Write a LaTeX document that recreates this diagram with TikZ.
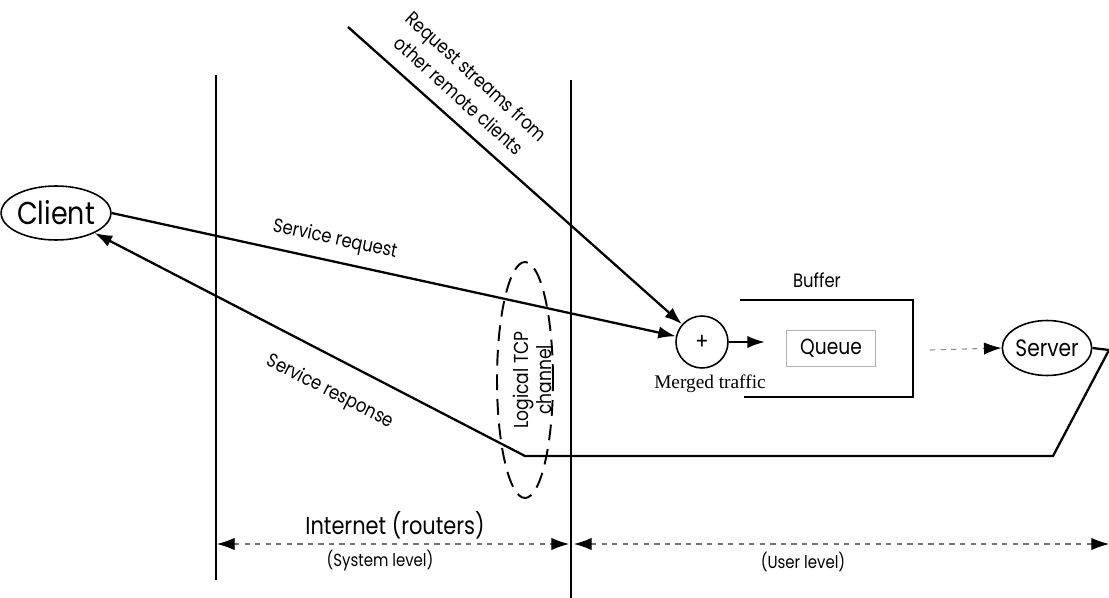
\documentclass[tikz,border=0pt]{standalone}
\usepackage{fontspec}
\setmainfont{Poppins}[FakeStretch=0.85]
\newfontfamily\timesfont{Liberation Serif}
\usetikzlibrary{arrows.meta,shapes.geometric}

\begin{document}
\begin{tikzpicture}[x=0.02cm,y=-0.02cm]
	\tikzset{oval/.style = {shape=ellipse,draw,line width=0.9pt,inner sep=0pt},
		wire/.style = {line width=1.3pt},
		tip/.style = {-{Latex[length=10pt,width=7pt]}},
		dim/.style = {draw=black!55,dashed,line width=0.6pt,{Latex[length=10pt,width=7pt,color=black]}-{Latex[length=10pt,width=7pt,color=black]}},
		lbl/.style = {font=\fontsize{11}{15}\selectfont}}

	\useasboundingbox (0,0) rectangle (1109,598);

	\node[oval,minimum width=1.76cm,minimum height=1.08cm,font=\fontsize{18}{20}\selectfont] (C_1) at (56,213) {Client};
	\node[shape=circle,draw,line width=0.9pt,minimum size=1.04cm,inner sep=0pt,font=\fontsize{13}{14}\selectfont] (M_1) at (702,342) {+};
	\node[font=\timesfont\fontsize{11}{13}\selectfont] (M_2) at (710,384) {Merged traffic};
	\node[oval,minimum width=1.54cm,minimum height=1.1cm,font=\fontsize{13.5}{15}\selectfont] (S_1) at (1047,348) {Server};
	\node[draw=black!30,line width=0.4pt,minimum width=1.78cm,minimum height=0.72cm,font=\fontsize{12.5}{14}\selectfont] (Q_1) at (831,348) {Queue};
	\node[lbl] (B_1) at (817,280) {Buffer};
	\node[oval,dashed,dash pattern=on 9pt off 5pt,line width=1.1pt,minimum width=1.12cm,minimum height=4.72cm] (T_1) at (525,380) {};
	\node[rotate=90,align=center,font=\fontsize{11.5}{13}\selectfont] (T_2) at (532,380) {Logical TCP\\channel};

	\coordinate (V_1) at (216,75);
	\coordinate (V_2) at (216,580);
	\coordinate (V_3) at (571,80);
	\coordinate (V_4) at (571,598);
	\coordinate (O_1) at (348,27);
	\coordinate (Q_in) at (765,342);
	\coordinate (Q_out) at (930,350);
	\coordinate (R_1) at (1109,350);
	\coordinate (R_2) at (1053,456);
	\coordinate (R_3) at (525,456);
	\coordinate (B_2) at (740,300);
	\coordinate (B_3) at (913,300);
	\coordinate (B_4) at (913,397);
	\coordinate (B_5) at (744,397);
	\coordinate (D_1) at (217,544);
	\coordinate (D_2) at (569,544);
	\coordinate (D_3) at (574,544);
	\coordinate (D_4) at (1109,544);

	\draw[line width=1pt] (V_1)--(V_2);
	\draw[line width=1pt] (V_3)--(V_4);
	\draw[wire,tip] (O_1)--(M_1);
	\draw[wire,tip] (C_1.east)--(M_1);
	\draw[wire,tip] (M_1)--(Q_in);
	\draw[wire] (B_2)--(B_3)--(B_4)--(B_5);
	\draw[draw=black!45,dashed,line width=0.6pt,-{Latex[length=10pt,width=7pt,color=black]}] (Q_out)--(S_1.west);
	\draw[wire,tip] (S_1.east)--(R_1)--(R_2)--(R_3)--(C_1);
	\draw[dim] (D_1)--(D_2);
	\draw[dim] (D_3)--(D_4);

	\node[lbl,rotate=-42,align=center] (L_1) at (468,86) {Request streams from\\other remote clients};
	\node[lbl,rotate=-12] (L_2) at (335,240) {Service request};
	\node[lbl,rotate=-27] (L_3) at (330,392) {Service response};
	\node[font=\fontsize{14}{16}\selectfont] (L_4) at (395,525) {Internet (routers)};
	\node[font=\fontsize{10}{12}\selectfont] (L_5) at (380,561) {(System level)};
	\node[font=\fontsize{10}{12}\selectfont] (L_6) at (803,562) {(User level)};

\end{tikzpicture}
\end{document}
